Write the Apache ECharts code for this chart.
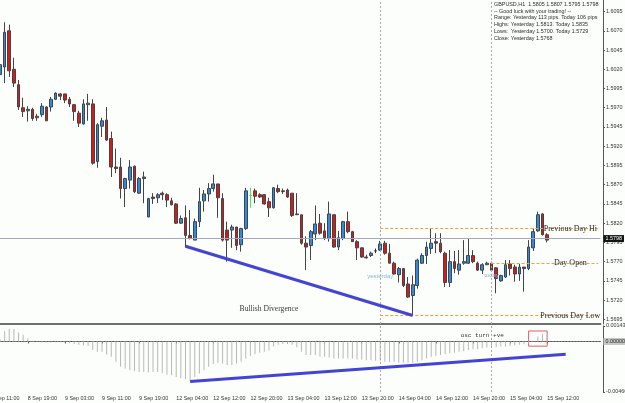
<!DOCTYPE html>
<html><head><meta charset="utf-8">
<script src="https://cdn.jsdelivr.net/npm/echarts@6/dist/echarts.min.js"></script>
<style>html,body{margin:0;padding:0;background:#fcfefc}#c{width:625px;height:403px}</style>
</head><body><div id="c"></div>
<script>
// ---- categories (hourly bars) ----
const sessions = [['8 Sep',11,23],['9 Sep',0,22],['12 Sep',0,23],['13 Sep',0,23],['14 Sep',0,23],['15 Sep',0,23]];
const firstBar = '8 Sep 13:00';
const xTickLabels = ['8 Sep 11:00','8 Sep 19:00','9 Sep 03:00','9 Sep 11:00','9 Sep 19:00','12 Sep 04:00','12 Sep 12:00','12 Sep 20:00','13 Sep 04:00','13 Sep 12:00','13 Sep 20:00','14 Sep 04:00','14 Sep 12:00','14 Sep 20:00','15 Sep 04:00','15 Sep 12:00'];
const priceTicks = [1.6095,1.6070,1.6045,1.6020,1.5995,1.5970,1.5945,1.5920,1.5895,1.5870,1.5845,1.5820,1.5795,1.5770,1.5745,1.5720,1.5695];
const oscTicks = [0.00143,-0.00466];

// ---- GBPUSD H1 OHLC ----
const opens = [1.6013,1.6023,1.6070,1.6020,1.6000,1.5970,1.5966,1.5968,1.5957,1.5961,
1.5971,1.5971,1.5981,1.5988,1.5988,1.5981,1.5974,1.5963,1.5949,1.5974,
1.5975,1.5900,1.5946,1.5954,1.5930,1.5893,1.5893,1.5865,1.5876,1.5894,
1.5859,1.5878,1.5828,1.5854,1.5853,1.5859,1.5857,1.5849,1.5845,1.5820,
1.5827,1.5804,1.5798,1.5822,1.5849,1.5858,1.5865,1.5871,1.5852,1.5811,
1.5811,1.5815,1.5792,1.5813,1.5856,1.5862,1.5857,1.5857,1.5848,1.5840,
1.5865,1.5861,1.5863,1.5859,1.5831,1.5831,1.5794,1.5791,1.5806,1.5820,
1.5810,1.5800,1.5831,1.5789,1.5800,1.5822,1.5809,1.5796,1.5788,1.5776,
1.5778,1.5784,1.5785,1.5794,1.5781,1.5768,1.5753,1.5761,1.5741,1.5726,
1.5739,1.5768,1.5778,1.5787,1.5796,1.5794,1.5781,1.5743,1.5770,1.5759,
1.5768,1.5768,1.5778,1.5768,1.5759,1.5766,1.5768,1.5762,1.5745,1.5750,
1.5767,1.5763,1.5754,1.5763,1.5761,1.5788,1.5810,1.5832,1.5805];
const highs = [1.6049,1.6081,1.6078,1.6035,1.6006,1.5983,1.5972,1.5970,1.5962,1.5976,
1.5972,1.5984,1.5990,1.5989,1.5988,1.5984,1.5975,1.5966,1.5981,1.5988,
1.5981,1.5950,1.5957,1.5971,1.5939,1.5917,1.5905,1.5879,1.5902,1.5895,
1.5880,1.5887,1.5853,1.5859,1.5859,1.5861,1.5859,1.5853,1.5846,1.5830,
1.5843,1.5837,1.5826,1.5866,1.5863,1.5872,1.5883,1.5871,1.5859,1.5822,
1.5818,1.5815,1.5814,1.5866,1.5866,1.5865,1.5859,1.5858,1.5853,1.5867,
1.5870,1.5865,1.5865,1.5859,1.5859,1.5831,1.5803,1.5811,1.5843,1.5832,
1.5820,1.5848,1.5831,1.5810,1.5823,1.5835,1.5810,1.5798,1.5788,1.5779,
1.5783,1.5787,1.5797,1.5797,1.5793,1.5770,1.5763,1.5761,1.5750,1.5752,
1.5774,1.5781,1.5796,1.5813,1.5807,1.5807,1.5783,1.5785,1.5784,1.5785,
1.5798,1.5800,1.5785,1.5770,1.5768,1.5770,1.5770,1.5763,1.5753,1.5772,
1.5772,1.5766,1.5767,1.5763,1.5798,1.5813,1.5835,1.5833,1.5807];
const lows = [1.5997,1.6002,1.6010,1.5997,1.5967,1.5958,1.5952,1.5953,1.5953,1.5958,
1.5953,1.5965,1.5980,1.5980,1.5976,1.5971,1.5953,1.5945,1.5948,1.5953,
1.5896,1.5892,1.5932,1.5927,1.5880,1.5885,1.5852,1.5841,1.5865,1.5859,
1.5858,1.5846,1.5828,1.5845,1.5846,1.5850,1.5841,1.5843,1.5819,1.5819,
1.5789,1.5799,1.5798,1.5815,1.5835,1.5848,1.5861,1.5827,1.5796,1.5770,
1.5788,1.5785,1.5783,1.5811,1.5840,1.5846,1.5853,1.5844,1.5828,1.5839,
1.5859,1.5858,1.5853,1.5828,1.5831,1.5792,1.5759,1.5772,1.5798,1.5805,
1.5798,1.5796,1.5788,1.5785,1.5798,1.5807,1.5796,1.5772,1.5775,1.5774,
1.5776,1.5781,1.5784,1.5779,1.5768,1.5753,1.5743,1.5737,1.5723,1.5700,
1.5735,1.5767,1.5767,1.5780,1.5781,1.5781,1.5737,1.5737,1.5755,1.5753,
1.5766,1.5767,1.5768,1.5758,1.5754,1.5766,1.5759,1.5729,1.5744,1.5749,
1.5752,1.5744,1.5745,1.5731,1.5759,1.5784,1.5809,1.5804,1.5795];
const closes = [1.6026,1.6068,1.6018,1.6002,1.5971,1.5965,1.5968,1.5956,1.5959,1.5972,
1.5953,1.5981,1.5989,1.5985,1.5980,1.5975,1.5965,1.5950,1.5975,1.5976,
1.5898,1.5948,1.5953,1.5928,1.5893,1.5891,1.5865,1.5878,1.5893,1.5861,
1.5878,1.5880,1.5852,1.5852,1.5857,1.5857,1.5850,1.5844,1.5820,1.5826,
1.5804,1.5800,1.5822,1.5848,1.5858,1.5865,1.5871,1.5853,1.5798,1.5798,
1.5815,1.5791,1.5813,1.5862,1.5856,1.5855,1.5854,1.5845,1.5840,1.5866,
1.5861,1.5862,1.5854,1.5830,1.5832,1.5794,1.5789,1.5809,1.5819,1.5807,
1.5801,1.5832,1.5789,1.5801,1.5822,1.5809,1.5796,1.5788,1.5776,1.5775,
1.5781,1.5784,1.5793,1.5781,1.5768,1.5754,1.5761,1.5739,1.5724,1.5740,
1.5772,1.5778,1.5789,1.5794,1.5794,1.5783,1.5743,1.5770,1.5761,1.5767,
1.5770,1.5778,1.5770,1.5759,1.5766,1.5768,1.5759,1.5748,1.5752,1.5766,
1.5761,1.5754,1.5763,1.5761,1.5789,1.5809,1.5831,1.5805,1.5798];

// ---- oscillator histogram ----
const osc = [0.00025,0.00094,0.00115,0.00115,0.00084,0.00062,0.00031,0.00006,-0.00003,-0.00006,
-0.00009,-0.00009,-0.00006,-0.00006,-0.00009,-0.00016,-0.00022,-0.00031,-0.00037,-0.00041,
-0.00078,-0.00094,-0.00094,-0.00119,-0.00140,-0.00187,-0.00234,-0.00250,-0.00265,-0.00275,
-0.00281,-0.00281,-0.00287,-0.00281,-0.00281,-0.00290,-0.00306,-0.00312,-0.00328,-0.00337,
-0.00349,-0.00365,-0.00328,-0.00296,-0.00265,-0.00234,-0.00209,-0.00197,-0.00203,-0.00218,
-0.00218,-0.00203,-0.00187,-0.00156,-0.00134,-0.00115,-0.00103,-0.00094,-0.00084,-0.00047,
-0.00031,-0.00022,-0.00016,-0.00031,-0.00053,-0.00094,-0.00125,-0.00125,-0.00125,-0.00140,
-0.00140,-0.00147,-0.00156,-0.00156,-0.00156,-0.00156,-0.00156,-0.00165,-0.00165,-0.00172,
-0.00172,-0.00178,-0.00178,-0.00187,-0.00187,-0.00187,-0.00197,-0.00197,-0.00197,-0.00197,
-0.00187,-0.00172,-0.00156,-0.00140,-0.00131,-0.00125,-0.00115,-0.00109,-0.00103,-0.00094,
-0.00087,-0.00078,-0.00072,-0.00069,-0.00062,-0.00056,-0.00053,-0.00053,-0.00047,-0.00047,
-0.00041,-0.00037,-0.00031,-0.00025,-0.00016,0.00006,0.00047,0.00072,0.00072];

// ---- levels & annotations ----
const bidPrice = 1.5798;
const prevDayHigh = 1.5813, prevDayLow = 1.5700, dayOpen = 1.5768, yesterdayClose = 1.5768;
const rangeYesterdayPips = 113, rangeTodayPips = 106, todayHigh = 1.5835, todayLow = 1.5729;
const yesterdayStart = '14 Sep 00:00', todayStart = '15 Sep 00:00', lastCat = '15 Sep 23:00';
const greenDojiAt = '12 Sep 20:00';
const priceTrend = [['12 Sep 06:00', 1.5790], ['14 Sep 07:00', 1.5700]];
const oscTrend = [['12 Sep 07:00', -0.00368], ['15 Sep 16:00', -0.00118]];
const oscBox = [['15 Sep 08:00', 0.00097], ['15 Sep 14:00', -0.00043]];
const levelLabelAt = '15 Sep 17:00';
const divergenceLabel = ['13 Sep 00:00', 1.5708];
const sepLabels = [[yesterdayStart, 1.57505, 'yesterday'], [todayStart, 1.5752, 'today']];
const oscNote = ['14 Sep 22:00', 0.0006, 'osc turn +ve'];

const categories = [];
sessions.forEach(([d, a, b]) => { for (let h = a; h <= b; h++) categories.push(d + ' ' + String(h).padStart(2,'0') + ':00'); });
const start = categories.indexOf(firstBar);
const n = opens.length;

const candleData = opens.map((o, i) => {
  const item = { value: [categories[start + i], o, closes[i], lows[i], highs[i]] };
  if (categories[start + i] === greenDojiAt) item.itemStyle = { borderColor: '#55e055', borderColor0: '#55e055', borderColorDoji: '#55e055' };
  return item;
});
const oscData = osc.map((v, i) => [categories[start + i], v]);

const SANS = 'Liberation Sans', SERIF = 'Liberation Serif';
const FS = 5.4;
const tickSel = (i, v) => xTickLabels.includes(v);
const sepStyle = { color: '#a9a9a9', type: [2, 2], width: 1 };
const orange = { color: '#f5a030', type: [3, 2], width: 1 };

const chart = echarts.init(document.getElementById('c'));
const info = [
  'GBPUSD,H1  ' + opens[n-1].toFixed(4) + ' ' + highs[n-1].toFixed(4) + ' ' + lows[n-1].toFixed(4) + ' ' + closes[n-1].toFixed(4),
  '-- Good luck with your trading! --',
  'Range: Yesterday ' + rangeYesterdayPips + ' pips. Today ' + rangeTodayPips + ' pips',
  'Highs: Yesterday ' + prevDayHigh.toFixed(4) + '. Today ' + todayHigh.toFixed(4),
  'Lows:  Yesterday ' + prevDayLow.toFixed(4) + '. Today ' + todayLow.toFixed(4),
  'Close: Yesterday ' + yesterdayClose.toFixed(4)
];

chart.setOption({
  backgroundColor: '#fcfefc',
  animation: false,
  textStyle: { fontFamily: SANS },
  grid: [
    { left: -11.6, right: 24.5, top: 0, height: 324, outerBoundsMode: 'none', containLabel: false },
    { left: -11.6, right: 24.5, top: 326, height: 66, outerBoundsMode: 'none', containLabel: false }
  ],
  xAxis: [
    { type: 'category', gridIndex: 0, data: categories, boundaryGap: true,
      axisLine: { show: true, lineStyle: { color: '#6e6e6e', width: 2 } },
      axisTick: { show: false }, axisLabel: { show: false }, splitLine: { show: false } },
    { type: 'category', gridIndex: 1, data: categories, boundaryGap: true,
      axisLine: { show: true, lineStyle: { color: '#555', width: 1 } },
      axisTick: { show: true, alignWithLabel: true, interval: tickSel, length: 2, lineStyle: { color: '#555' } },
      axisLabel: { interval: tickSel, align: 'left', fontSize: FS, color: '#333', margin: 4, fontFamily: SANS },
      splitLine: { show: false } }
  ],
  yAxis: [
    { type: 'value', gridIndex: 0, position: 'right', offset: 2.5, min: 1.5689, max: 1.6110, scale: true,
      splitLine: { show: false },
      axisLine: { show: true, lineStyle: { color: '#555' } },
      axisTick: { show: true, length: 2, customValues: priceTicks, lineStyle: { color: '#555' } },
      axisLabel: { customValues: priceTicks, formatter: v => v.toFixed(4), fontSize: FS, color: '#333', margin: 3, fontFamily: SANS } },
    { type: 'value', gridIndex: 1, position: 'right', offset: 2.5, min: -0.00466, max: 0.00143,
      splitLine: { show: false },
      axisLine: { show: true, lineStyle: { color: '#555' } },
      axisTick: { show: true, length: 2, customValues: oscTicks, lineStyle: { color: '#555' } },
      axisLabel: { customValues: oscTicks, formatter: v => v.toFixed(5), fontSize: FS, color: '#333', margin: 3, fontFamily: SANS } }
  ],
  series: [
    { type: 'candlestick', xAxisIndex: 0, yAxisIndex: 0, data: candleData,
      encode: { x: 0, y: [1, 2, 3, 4] }, barWidth: 3.2,
      itemStyle: { color: '#2b8ce6', color0: '#d41a1a', borderColor: '#444', borderColor0: '#444', borderColorDoji: '#333', borderWidth: 1 },
      markLine: { silent: true, symbol: ['none', 'none'], animation: false, label: { show: false },
        data: [
          { yAxis: bidPrice, lineStyle: { color: '#a6a6c0', width: 1, type: 'solid' },
            label: { show: true, position: 'end', distance: 3, formatter: bidPrice.toFixed(4), backgroundColor: '#141414', color: '#fff', fontSize: FS, fontFamily: SANS, padding: [1, 2, 1, 2] } },
          { xAxis: yesterdayStart, lineStyle: sepStyle },
          { xAxis: todayStart, lineStyle: sepStyle },
          [{ coord: [yesterdayStart, prevDayHigh], lineStyle: orange }, { coord: [lastCat, prevDayHigh] }],
          [{ coord: [yesterdayStart, prevDayLow], lineStyle: orange }, { coord: [lastCat, prevDayLow] }],
          [{ coord: [todayStart, dayOpen], lineStyle: orange }, { coord: [lastCat, dayOpen] }],
          [{ coord: priceTrend[0], lineStyle: { color: '#4444d4', width: 3, type: 'solid' } }, { coord: priceTrend[1] }]
        ] },
      markPoint: { silent: true, symbol: 'circle', symbolSize: 0, animation: false,
        data: [
          { coord: [levelLabelAt, prevDayHigh], label: { show: true, position: 'inside', formatter: 'Previous Day Hi', fontFamily: SERIF, fontSize: 8, color: '#2a2a2a' } },
          { coord: [levelLabelAt, dayOpen], label: { show: true, position: 'inside', formatter: 'Day Open', fontFamily: SERIF, fontSize: 8, color: '#2a2a2a' } },
          { coord: [levelLabelAt, prevDayLow], label: { show: true, position: 'inside', formatter: 'Previous Day Low', fontFamily: SERIF, fontSize: 8, color: '#2a2a2a' } },
          { coord: divergenceLabel, label: { show: true, position: 'inside', formatter: 'Bullish Divergence', fontFamily: SERIF, fontSize: 7.6, color: '#3a3a3a' } },
          ...sepLabels.map(s => ({ coord: [s[0], s[1]], label: { show: true, position: 'inside', formatter: s[2], fontFamily: SANS, fontSize: 6, color: '#86b6d6' } }))
        ] } },
    { type: 'bar', xAxisIndex: 1, yAxisIndex: 1, data: oscData, barWidth: 1,
      itemStyle: { color: '#b8b8b8' },
      markLine: { silent: true, symbol: ['none', 'none'], animation: false, label: { show: false },
        data: [
          { yAxis: 0, lineStyle: { color: '#9a9a9a', type: [1, 2], width: 1 },
            label: { show: true, position: 'end', distance: 3, formatter: '0.00000', backgroundColor: '#c8c8c8', color: '#222', fontSize: FS, fontFamily: SANS, padding: [1, 2, 1, 2] } },
          { xAxis: yesterdayStart, lineStyle: sepStyle },
          { xAxis: todayStart, lineStyle: sepStyle },
          [{ coord: oscTrend[0], lineStyle: { color: '#4444d4', width: 3, type: 'solid' } }, { coord: oscTrend[1] }]
        ] },
      markArea: { silent: true, itemStyle: { color: 'rgba(0,0,0,0)', borderColor: '#e06060', borderWidth: 1 },
        data: [[{ coord: oscBox[0] }, { coord: oscBox[1] }]] },
      markPoint: { silent: true, symbol: 'circle', symbolSize: 0, animation: false,
        data: [{ coord: [oscNote[0], oscNote[1]], label: { show: true, position: 'inside', formatter: oscNote[2], fontFamily: 'Liberation Mono', fontSize: 6, color: '#333' } }] } }
  ],
  graphic: [{ type: 'text', left: 494, top: 1, silent: true,
    style: { text: info.join('\n'), fontFamily: SANS, fontSize: FS, lineHeight: 6.8, fill: '#2a2a2a' } }]
});
</script></body></html>
